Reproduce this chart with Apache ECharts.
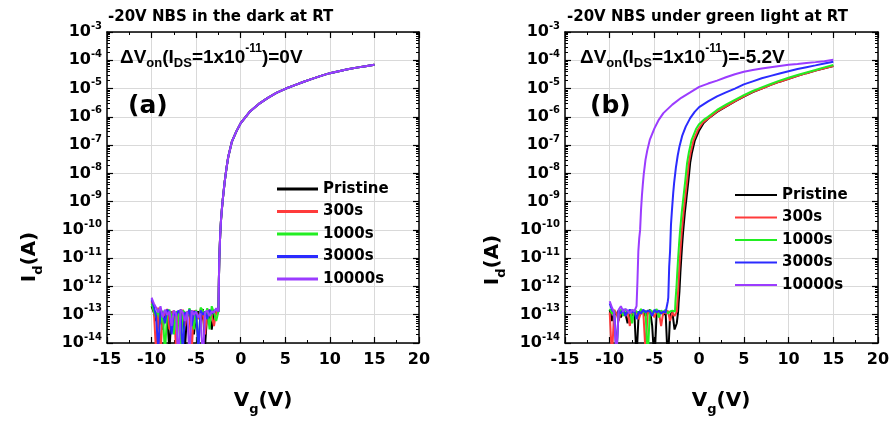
<!DOCTYPE html>
<html><head><meta charset="utf-8">
<script src="https://cdn.jsdelivr.net/npm/echarts@6/dist/echarts.min.js"></script>
<style>html,body{margin:0;padding:0;background:#fff}#c{width:894px;height:424px}</style>
</head><body><div id="c"></div>
<script>
// ---------- data ----------
const seriesNames = ['Pristine', '300s', '1000s', '3000s', '10000s'];
const seriesColors = ['#000000', '#ff3b3b', '#22ee22', '#2b2bff', '#9b3cff'];
const xTickValues = [-15, -10, -5, 0, 5, 10, 15, 20];
const yTickExponents = [-14, -13, -12, -11, -10, -9, -8, -7, -6, -5, -4, -3];

// gate voltages of the off-state (noise floor) samples
const noiseVg = [-10, -9.75, -9.5, -9.25, -9, -8.75, -8.5, -8.25, -8, -7.75, -7.5, -7.25, -7, -6.75, -6.5, -6.25, -6, -5.75, -5.5, -5.25, -5, -4.75, -4.5, -4.25, -4, -3.75, -3.5, -3.25, -3, -2.75, -2.5];

// (a) dark: off-state currents (A)
const aPristineNoise = [2e-13, 1.2e-13, 6e-14, 1.5e-13, 9e-14, 3e-14, 1.4e-13, 1.1e-13, 5e-15, 1.3e-13, 8e-14, 1.2e-13, 4e-14, 1.5e-13, 1e-13, 7e-15, 1.2e-13, 9e-14, 1.4e-13, 2e-14, 1.1e-13, 1.3e-13, 5e-14, 1.6e-13, 8e-15, 1.2e-13, 1e-13, 3e-14, 1.4e-13, 1.1e-13];
const a300Noise = [3e-13, 1.5e-13, 5e-15, 1.8e-13, 4e-15, 1.2e-13, 9e-14, 1.6e-13, 3e-14, 1.1e-13, 1.4e-13, 6e-15, 1.2e-13, 8e-14, 1.5e-13, 4e-14, 1.3e-13, 1e-13, 5e-15, 1.4e-13, 1.1e-13, 7e-14, 1.6e-13, 1.2e-13, 2e-14, 1.3e-13, 1.5e-13, 9e-14, 4e-14, 1.2e-13];
const a1000Noise = [2.5e-13, 1.3e-13, 8e-14, 1.6e-13, 5e-14, 1.4e-13, 4e-15, 1.2e-13, 1.5e-13, 9e-14, 2e-14, 1.3e-13, 1.1e-13, 6e-15, 1.4e-13, 1.2e-13, 8e-14, 1.7e-13, 1e-13, 3e-14, 1.5e-13, 5e-15, 1.8e-13, 1.4e-13, 9e-14, 1.7e-13, 3e-14, 2e-13, 1.2e-13, 6e-14];
const a3000Noise = [3.5e-13, 2e-13, 9e-14, 6e-15, 1.4e-13, 1.1e-13, 5e-14, 1.5e-13, 1.2e-13, 2e-14, 1.3e-13, 9e-14, 1.4e-13, 1.1e-13, 5e-15, 1.2e-13, 1e-13, 1.5e-13, 4e-14, 1.3e-13, 1.2e-13, 6e-15, 1.4e-13, 1e-13, 1.3e-13, 7e-14, 1.5e-13, 1.1e-13, 1.3e-13, 1.6e-13];
const a10000Noise = [4e-13, 2.5e-13, 1.8e-13, 1.2e-13, 2e-13, 8e-14, 1.5e-13, 1e-13, 1.3e-13, 4e-14, 1.4e-13, 1.1e-13, 2e-15, 1.5e-13, 1.2e-13, 6e-14, 1.3e-13, 3e-15, 1.4e-13, 1e-13, 1.3e-13, 8e-14, 1.1e-13, 2e-15, 1.2e-13, 1.4e-13, 9e-14, 1.3e-13, 1.2e-13, 1.7e-13];
// (a) dark: on-state (all stress times overlap)
const aOnVg = [-2.5, -2.45, -2.4, -2.3, -2.2, -2.1, -2.0, -1.8, -1.6, -1.4, -1.2, -1.0, -0.5, 0, 1, 2, 3, 4, 5, 6, 7, 8, 9, 10, 11, 12, 13, 14, 15];
const aOnI = [1.3e-13, 1.5e-12, 1e-11, 7e-11, 2.5e-10, 6e-10, 1.3e-9, 5e-9, 1.5e-8, 3.8e-8, 7e-8, 1.3e-7, 3e-7, 6e-7, 1.5e-6, 2.8e-6, 4.6e-6, 7e-6, 9.8e-6, 1.3e-5, 1.7e-5, 2.2e-5, 2.8e-5, 3.5e-5, 4.1e-5, 4.8e-5, 5.5e-5, 6.2e-5, 7e-5];

// (b) green light: off-state currents (A)
const bPristineNoise = [1.5e-13, 6e-14, 1.2e-13, 1e-13, 1.4e-13, 8e-14, 1.3e-13, 1.1e-13, 5e-14, 1.4e-13, 9e-14, 1.2e-13, 3e-15, 1.3e-13, 1.1e-13, 1.4e-13, 9e-14, 1.2e-13, 1.5e-13, 4e-14, 2e-15, 1.2e-13, 1.1e-13, 1.3e-13, 1e-13, 1.2e-13, 2e-15, 9e-14, 1.3e-13, 3e-14, 5e-14];
const b300Noise = [1.2e-13, 3e-15, 1.5e-13, 1.1e-13, 6e-14, 1.4e-13, 1.2e-13, 9e-14, 1.3e-13, 4e-14, 1.5e-13, 1.1e-13, 1.3e-13, 7e-14, 1.2e-13, 1.4e-13, 5e-15, 1.2e-13, 1.1e-13, 1.3e-13, 8e-14, 1.4e-13, 1.2e-13, 4e-14, 1.3e-13, 1.1e-13, 1.4e-13, 6e-14, 1.2e-13, 9e-14];
const b1000Noise = [1.6e-13, 1.1e-13, 1.4e-13, 4e-15, 1.3e-13, 1.5e-13, 9e-14, 1.6e-13, 1.2e-13, 1.4e-13, 5e-14, 1.5e-13, 1.3e-13, 1.1e-13, 1.6e-13, 1.2e-13, 1.4e-13, 3e-15, 1.5e-13, 1.3e-13, 1.2e-13, 1.6e-13, 8e-14, 1.4e-13, 1.2e-13, 1.5e-13, 1.1e-13, 1.3e-13, 1.4e-13];
const b3000Noise = [2.5e-13, 1.5e-13, 1.2e-13, 4e-15, 1.4e-13, 1.1e-13, 1.6e-13, 9e-14, 1.3e-13, 1.5e-13, 1.2e-13, 1.4e-13, 7e-14, 1.3e-13, 1.1e-13, 1.5e-13, 1.2e-13, 1.4e-13, 1.3e-13, 9e-14, 1.5e-13, 1.2e-13, 1.4e-13, 1.1e-13, 1.3e-13, 1.2e-13];
const b10000Noise = [3e-13, 1.8e-13, 1.2e-13, 3e-15, 1.5e-13, 2e-13, 1.3e-13, 1.6e-13, 1.4e-13, 1.1e-13, 1.5e-13, 1.3e-13];
// (b) green light: on-state
const bPristineOnVg = [-2.35, -2.3, -2.2, -2.1, -2.0, -1.9, -1.8, -1.6, -1.4, -1.2, -1.0, -0.8, -0.5, 0, 0.5, 1, 2, 3, 4, 5, 6, 7, 8, 9, 10, 11, 12, 13, 14, 15];
const bPristineOnI = [1.3e-13, 2.5e-13, 7e-13, 3e-12, 1e-11, 3e-11, 8e-11, 4e-10, 1.5e-9, 5.5e-9, 2.4e-8, 5.5e-8, 1.4e-7, 3.3e-7, 6e-7, 8.5e-7, 1.5e-6, 2.3e-6, 3.5e-6, 5.2e-6, 7.5e-6, 1e-5, 1.35e-5, 1.75e-5, 2.2e-5, 2.8e-5, 3.5e-5, 4.3e-5, 5.2e-5, 6.3e-5];
const b300OnVg = [-2.5, -2.45, -2.35, -2.25, -2.15, -2.05, -1.95, -1.75, -1.55, -1.35, -1.15, -0.95, -0.65, -0.15, 0.4, 1, 2, 3, 4, 5, 6, 7, 8, 9, 10, 11, 12, 13, 14, 15];
const b300OnI = [1.3e-13, 2.5e-13, 7e-13, 3e-12, 1e-11, 3e-11, 8e-11, 4e-10, 1.5e-9, 5.5e-9, 2.4e-8, 5.5e-8, 1.4e-7, 3.4e-7, 6.2e-7, 8.8e-7, 1.55e-6, 2.35e-6, 3.6e-6, 5.3e-6, 7.6e-6, 1e-5, 1.35e-5, 1.75e-5, 2.2e-5, 2.8e-5, 3.5e-5, 4.3e-5, 5.2e-5, 6.2e-5];
const b1000OnVg = [-2.7, -2.65, -2.55, -2.45, -2.35, -2.25, -2.15, -1.95, -1.75, -1.55, -1.35, -1.15, -0.85, -0.35, 0, 0.5, 1, 2, 3, 4, 5, 6, 7, 8, 9, 10, 11, 12, 13, 14, 15];
const b1000OnI = [1.3e-13, 3e-13, 8e-13, 3e-12, 1e-11, 3e-11, 8e-11, 4e-10, 1.5e-9, 5.5e-9, 2.3e-8, 5.5e-8, 1.5e-7, 3.7e-7, 5.5e-7, 7.8e-7, 1e-6, 1.75e-6, 2.7e-6, 4e-6, 5.8e-6, 8.2e-6, 1.1e-5, 1.45e-5, 1.9e-5, 2.4e-5, 3e-5, 3.7e-5, 4.5e-5, 5.6e-5, 6.8e-5];
const b3000OnVg = [-3.55, -3.5, -3.45, -3.35, -3.25, -3.15, -3.05, -2.9, -2.8, -2.6, -2.4, -2.2, -1.9, -1.5, -1.0, -0.5, 0, 1, 2, 3, 4, 5, 6, 7, 8, 9, 10, 11, 12, 13, 14, 15];
const b3000OnI = [1.3e-13, 3e-13, 4e-13, 5e-12, 1.8e-11, 1.5e-10, 4.5e-10, 2e-9, 4.5e-9, 1.6e-8, 4.2e-8, 9e-8, 2.1e-7, 4.5e-7, 9e-7, 1.5e-6, 2.2e-6, 3.5e-6, 5.3e-6, 7.3e-6, 1e-5, 1.4e-5, 1.8e-5, 2.3e-5, 2.8e-5, 3.4e-5, 4.1e-5, 4.9e-5, 5.7e-5, 6.6e-5, 7.7e-5, 8.9e-5];
const b10000OnVg = [-7.05, -7.0, -6.9, -6.8, -6.7, -6.6, -6.5, -6.4, -6.3, -6.2, -6.0, -5.8, -5.5, -5.0, -4.5, -4.0, -3.0, -2.0, -1.0, 0, 1, 2, 3, 4, 5, 6, 7, 8, 9, 10, 11, 12, 13, 14, 15];
const b10000OnI = [1.3e-13, 2e-13, 1.5e-12, 1.7e-11, 5e-11, 1e-10, 5e-10, 1.6e-9, 4e-9, 9e-9, 3e-8, 6.5e-8, 1.6e-7, 3.9e-7, 8e-7, 1.35e-6, 2.7e-6, 4.7e-6, 7.3e-6, 1.15e-5, 1.5e-5, 1.9e-5, 2.5e-5, 3.2e-5, 3.9e-5, 4.5e-5, 5.1e-5, 5.7e-5, 6.3e-5, 6.9e-5, 7.4e-5, 8e-5, 8.6e-5, 9.3e-5, 1.05e-4];

// ---------- build ----------
function buildCurve(noise, onVg, onI) {
  const pts = noise.map((v, i) => [noiseVg[i], v]);
  onVg.forEach((x, i) => pts.push([x, onI[i]]));
  return pts;
}
const panelA = [
  buildCurve(aPristineNoise, aOnVg, aOnI),
  buildCurve(a300Noise, aOnVg, aOnI),
  buildCurve(a1000Noise, aOnVg, aOnI),
  buildCurve(a3000Noise, aOnVg, aOnI),
  buildCurve(a10000Noise, aOnVg, aOnI)
];
const panelB = [
  buildCurve(bPristineNoise, bPristineOnVg, bPristineOnI),
  buildCurve(b300Noise, b300OnVg, b300OnI),
  buildCurve(b1000Noise, b1000OnVg, b1000OnI),
  buildCurve(b3000Noise, b3000OnVg, b3000OnI),
  buildCurve(b10000Noise, b10000OnVg, b10000OnI)
];

const FONT = '"DejaVu Sans", sans-serif';
const FONT2 = '"Liberation Sans", Arial, sans-serif';
const yMajorValues = yTickExponents.map(e => Math.pow(10, e));
const yMinorValues = [];
yTickExponents.slice(0, -1).forEach(e => { for (let k = 2; k <= 9; k++) yMinorValues.push(k * Math.pow(10, e)); });

const lineSt = { color: '#000', width: 1.5 };
function xAxesFor(gi) {
  const base = { gridIndex: gi, type: 'value', min: xTickValues[0], max: xTickValues[xTickValues.length - 1], interval: 5 };
  return [
    Object.assign({}, base, {
      position: 'bottom',
      axisLine: { show: true, onZero: false, lineStyle: lineSt },
      axisTick: { show: true, inside: true, length: 6, lineStyle: { color: '#000', width: 1.2 } },
      minorTick: { show: true, splitNumber: 2, length: 3, lineStyle: { color: '#000', width: 1 } },
      splitLine: { show: true, lineStyle: { color: '#d9d9d9', width: 1 } },
      axisLabel: { color: '#000', fontFamily: FONT, fontWeight: 'bold', fontSize: 16, margin: 9 }
    }),
    Object.assign({}, base, {
      position: 'top',
      axisLine: { show: true, onZero: false, lineStyle: lineSt },
      axisTick: { show: true, inside: true, length: 6, lineStyle: { color: '#000', width: 1.2 } },
      minorTick: { show: true, splitNumber: 2, length: 3, lineStyle: { color: '#000', width: 1 } },
      splitLine: { show: false },
      axisLabel: { show: false }
    })
  ];
}
function yAxesFor(gi) {
  const base = { gridIndex: gi, type: 'log', logBase: 10, min: yMajorValues[0], max: yMajorValues[yMajorValues.length - 1] };
  const major = (pos, labels) => Object.assign({}, base, {
    position: pos,
    axisLine: { show: true, onZero: false, lineStyle: lineSt },
    axisTick: { show: true, inside: true, length: 6, customValues: yMajorValues, lineStyle: { color: '#000', width: 1.2 } },
    splitLine: { show: labels, lineStyle: { color: '#d9d9d9', width: 1 } },
    axisLabel: labels ? {
      show: true, customValues: yMajorValues, margin: 5,
      formatter: v => '{b|10}{e|' + Math.round(Math.log10(v)) + '}',
      rich: {
        b: { fontFamily: FONT, fontWeight: 'bold', fontSize: 16, color: '#000', lineHeight: 22 },
        e: { fontFamily: FONT, fontWeight: 'bold', fontSize: 10, color: '#000', lineHeight: 11, verticalAlign: 'top' }
      }
    } : { show: false }
  });
  const minor = pos => Object.assign({}, base, {
    position: pos,
    axisLine: { show: false, onZero: false },
    axisTick: { show: true, inside: true, length: 3, customValues: yMinorValues, lineStyle: { color: '#000', width: 1 } },
    splitLine: { show: false },
    axisLabel: { show: false }
  });
  return [major('left', true), minor('left'), major('right', false), minor('right')];
}

const series = [];
[panelA, panelB].forEach((panel, p) => {
  panel.forEach((data, i) => {
    series.push({
      name: seriesNames[i], type: 'line', data: data,
      xAxisIndex: p * 2, yAxisIndex: p * 4,
      showSymbol: false, symbol: 'none', clip: true,
      lineStyle: { color: seriesColors[i], width: 2 },
      itemStyle: { color: seriesColors[i] },
      z: 2 + i
    });
  });
});

const legendText = { fontFamily: FONT, fontWeight: 'bold', fontSize: 15, color: '#000', lineHeight: 18 };

function textEl(x, y, text, size, extra, family) {
  return {
    type: 'text', x: x, y: y, z: 100,
    style: Object.assign({ text: text, fontFamily: family || FONT, fontWeight: 'bold', fontSize: size, fill: '#000',
      align: 'left', verticalAlign: 'middle', textAlign: 'left', textVerticalAlign: 'middle' }, extra || {})
  };
}
const annotRich = {
  sub: { fontFamily: FONT2, fontWeight: 'bold', fontSize: 13, fill: '#000', padding: [11, 0, 0, 0] },
  sup: { fontFamily: FONT2, fontWeight: 'bold', fontSize: 12, fill: '#000', verticalAlign: 'top', lineHeight: 12 }
};
const axisTitleRich = {
  s: { fontFamily: FONT, fontWeight: 'bold', fontSize: 13, fill: '#000', padding: [18, 0, 0, 0] }
};

const graphics = [
  textEl(108, 17, '-20V NBS in the dark at RT', 15),
  textEl(567, 17, '-20V NBS under green light at RT', 15),
  textEl(120, 58, '\u0394V{sub|on}(I{sub|DS}=1x10{sup|-11})=0V', 19, { lineHeight: 30, rich: annotRich }, FONT2),
  textEl(580, 58, '\u0394V{sub|on}(I{sub|DS}=1x10{sup|-11})=-5.2V', 19, { lineHeight: 30, rich: annotRich }, FONT2),
  textEl(128, 106, '(a)', 25),
  textEl(590, 106, '(b)', 25),
  textEl(263, 401, 'V{s|g}(V)', 20, { align: 'center', textAlign: 'center', lineHeight: 26, rich: axisTitleRich }),
  textEl(721, 401, 'V{s|g}(V)', 20, { align: 'center', textAlign: 'center', lineHeight: 26, rich: axisTitleRich }),
  Object.assign(textEl(30, 257, 'I{s|d}(A)', 20, { align: 'center', textAlign: 'center', lineHeight: 26, rich: axisTitleRich }), { rotation: Math.PI / 2 }),
  Object.assign(textEl(493, 260, 'I{s|d}(A)', 20, { align: 'center', textAlign: 'center', lineHeight: 26, rich: axisTitleRich }), { rotation: Math.PI / 2 })
];

const option = {
  animation: false,
  backgroundColor: '#fff',
  grid: [
    { left: 107, top: 32, width: 312, height: 311, containLabel: false },
    { left: 565, top: 32, width: 313, height: 311, containLabel: false }
  ],
  xAxis: xAxesFor(0).concat(xAxesFor(1)),
  yAxis: yAxesFor(0).concat(yAxesFor(1)),
  legend: [
    { data: seriesNames, orient: 'vertical', left: 277, top: 180, itemWidth: 41, itemHeight: 3, itemGap: 4.5, icon: 'rect', padding: 0, selectedMode: false, textStyle: legendText },
    { data: seriesNames, orient: 'vertical', left: 735, top: 186, itemWidth: 42, itemHeight: 2, itemGap: 4.5, icon: 'rect', padding: 0, selectedMode: false, textStyle: legendText }
  ],
  graphic: graphics,
  series: series
};
const chart = echarts.init(document.getElementById('c'), null, { renderer: 'canvas' });
chart.setOption(option);
</script>
</body></html>
